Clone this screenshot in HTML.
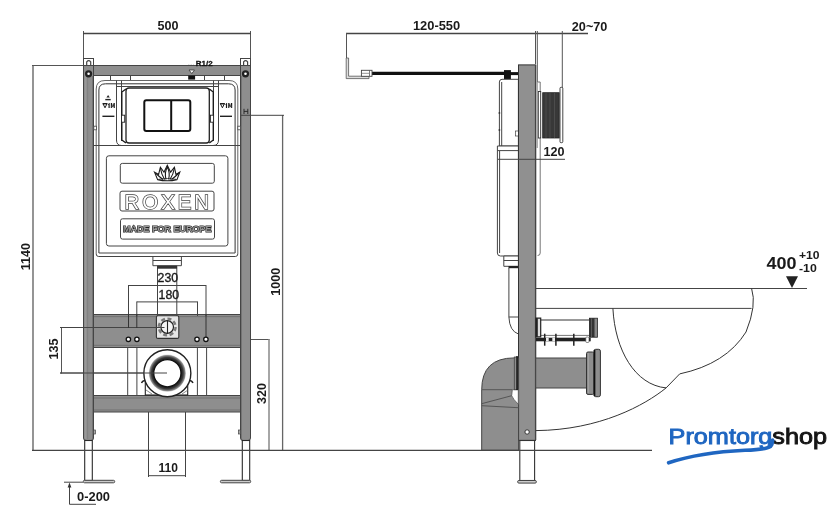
<!DOCTYPE html>
<html><head><meta charset="utf-8">
<style>
html,body{margin:0;padding:0;background:#fff;width:840px;height:525px;overflow:hidden}
svg{display:block;will-change:transform}
text{font-family:"Liberation Sans",sans-serif;font-weight:bold;fill:#1a1a1a}
</style></head><body>
<svg width="840" height="525" viewBox="0 0 840 525">
<defs>
<radialGradient id="dg" cx="167.35" cy="373.2" r="18.6" gradientUnits="userSpaceOnUse">
<stop offset="0.72" stop-color="#1a1a1a"/>
<stop offset="0.85" stop-color="#3a3a3a"/>
<stop offset="0.95" stop-color="#888"/>
<stop offset="1" stop-color="#ddd"/>
</radialGradient>
</defs>
<!-- ===== FRONT VIEW ===== -->
<g fill="none" stroke="#555" stroke-width="1">
<!-- dimension 500 -->
<line x1="83.5" y1="31" x2="83.5" y2="58"/>
<line x1="250.5" y1="31" x2="250.5" y2="58"/>
<line x1="83" y1="33.5" x2="251" y2="33.5" stroke="#444" stroke-width="1.3"/>
<!-- 1140 dim -->
<line x1="33" y1="65" x2="33" y2="450" stroke="#7a7a7a" stroke-width="1.6"/>
<line x1="32" y1="65.5" x2="83" y2="65.5"/>
<!-- floor -->
<!-- 1000 dim -->

<line x1="282.6" y1="115" x2="282.6" y2="450" stroke="#666" stroke-width="1.3"/>
<!-- 320 dim -->
<line x1="206" y1="339.5" x2="269.5" y2="339.5"/>
<line x1="269" y1="339" x2="269" y2="450" stroke="#888" stroke-width="1.5"/>
<!-- 135 dim -->
<line x1="61.5" y1="327.5" x2="61.5" y2="373.5"/>
<line x1="60" y1="327.5" x2="167" y2="327.5"/>
<line x1="60" y1="373" x2="167" y2="373"/>
</g>
<!-- frame posts -->
<g fill="#8e8e8e" stroke="#444" stroke-width="1">
<rect x="93.5" y="314.5" width="147" height="33"/>
<rect x="93.5" y="395.5" width="147" height="16.5"/>
<rect x="83.5" y="65.5" width="167" height="10"/>
<path d="M83.5 65.5 H93.5 V438 Q93.5 440.5 91 440.5 H86 Q83.5 440.5 83.5 438 Z"/>
<path d="M240.5 65.5 H250.5 V438 Q250.5 440.5 248 440.5 H243 Q240.5 440.5 240.5 438 Z"/>
</g>
<g fill="none" stroke-width="0.7">
<line x1="85.6" y1="76" x2="85.6" y2="439" stroke="#999" stroke-width="1.4"/>
<line x1="87.6" y1="76" x2="87.6" y2="439" stroke="#7c7c7c"/>
<line x1="92.6" y1="76" x2="92.6" y2="439" stroke="#666"/>
<line x1="241.4" y1="76" x2="241.4" y2="439" stroke="#666"/>
<line x1="94" y1="316.6" x2="240" y2="316.6" stroke="#666"/>
<line x1="94" y1="345.3" x2="240" y2="345.3" stroke="#666"/>
<line x1="94" y1="398" x2="240" y2="398" stroke="#666"/>
<line x1="94" y1="410" x2="240" y2="410" stroke="#666"/>
</g>
<g fill="#fff" stroke="#444" stroke-width="1">
<!-- tabs -->
<rect x="83.5" y="58.5" width="10" height="7"/>
<rect x="240.5" y="58.5" width="10" height="7"/>
<path d="M86.7 65 V61.8 Q88.7 59.6 90.7 61.8 V65" stroke-width="1.2"/>
<path d="M243.6 65 V61.8 Q245.6 59.6 247.6 61.8 V65" stroke-width="1.2"/>
<!-- legs -->
<rect x="84.7" y="440.5" width="7.6" height="40" stroke="#2a2a2a" stroke-width="1.1"/>
<rect x="242.3" y="440.5" width="7.4" height="40" stroke="#2a2a2a" stroke-width="1.1"/>
<rect x="83.3" y="480.3" width="31.4" height="2.5" rx="1.2" fill="#ccc"/>
<rect x="220.4" y="480.3" width="30.3" height="2.5" rx="1.2" fill="#ccc"/>
<!-- knobs -->
<rect x="93.5" y="430" width="2" height="4" fill="#aaa" stroke-width="0.7"/>
<rect x="238.5" y="430" width="2" height="4" fill="#aaa" stroke-width="0.7"/>
</g>
<line x1="241" y1="115.3" x2="284" y2="115.3" stroke="#444" stroke-width="1"/>
<path d="M244 108.8 V114 M247.8 108.8 V114 M244 111.4 H247.8" stroke="#222" stroke-width="0.9" fill="none"/>
<!-- bolts -->
<circle cx="88.6" cy="73.8" r="3.6" fill="#222"/>
<circle cx="88.6" cy="73.8" r="1.3" fill="#fff"/>
<circle cx="245.5" cy="73.8" r="3.6" fill="#222"/>
<circle cx="245.5" cy="73.8" r="1.3" fill="#fff"/>

<g fill="none" stroke="#444" stroke-width="1">
<!-- rails under top bar -->
<line x1="110.5" y1="76" x2="110.5" y2="80"/>
<line x1="130.5" y1="76" x2="130.5" y2="80"/>
<line x1="204.5" y1="76" x2="204.5" y2="80"/>
<line x1="224.5" y1="76" x2="224.5" y2="80"/>
<!-- cistern outer double line -->
<path d="M96.2 254 V89 Q96.2 80.5 105 80.5 H229 Q237.8 80.5 237.8 89 V254" stroke="#666"/>
<path d="M98.9 253 V90 Q98.9 83.8 105.5 83.8 H228.5 Q235.1 83.8 235.1 90 V253" stroke="#333"/>
<line x1="116.5" y1="80.5" x2="116.5" y2="141"/>
<line x1="218.5" y1="80.5" x2="218.5" y2="141"/>
<line x1="121.5" y1="80.5" x2="121.5" y2="141"/>
<line x1="213.5" y1="80.5" x2="213.5" y2="141"/>
<line x1="116" y1="86.5" x2="218.5" y2="86.5"/>
<path d="M116.5 140 Q116.5 145.5 121.5 145.5 H213 Q218.5 145.5 218.5 140"/>
<line x1="93.5" y1="145.5" x2="240.5" y2="145.5"/>
<!-- flush plate -->
<rect x="126" y="88" width="83.3" height="55" rx="3" stroke="#222" stroke-width="1.3"/>
<path d="M126 89 L121.8 92 V140 L126 143" stroke="#1a1a1a" stroke-width="1.4"/>
<rect x="121.5" y="115.2" width="3.2" height="7" fill="#fff" stroke="#222" stroke-width="0.9"/>
<path d="M209.3 89 L213.3 92 V140 L209.3 143" stroke="#1a1a1a" stroke-width="1.4"/>
<rect x="210.4" y="115.2" width="3.2" height="7" fill="#fff" stroke="#222" stroke-width="0.9"/>
<rect x="144.3" y="100.3" width="46" height="30.7" rx="2" stroke="#111" stroke-width="2"/>
<line x1="171.2" y1="100.3" x2="171.2" y2="131" stroke="#111" stroke-width="2"/>
<!-- underline 1M -->
<line x1="102.4" y1="116.3" x2="114.4" y2="116.3" stroke="#222" stroke-width="1.4"/>
<line x1="220" y1="116.3" x2="232" y2="116.3" stroke="#222" stroke-width="1.4"/>
<!-- side stubs -->
<rect x="93.8" y="126.2" width="2.6" height="3.6" fill="#fff" stroke-width="0.8"/>
<rect x="237.8" y="126.2" width="2.6" height="3.6" fill="#fff" stroke-width="0.8"/>
<!-- cistern lower -->
<path d="M98.9 253 H235.1" />
<path d="M96.2 254 Q96.2 256.5 98.7 256.5 H235.3 Q237.8 256.5 237.8 254"/>
<rect x="106.4" y="155.8" width="121.5" height="90.2" rx="2.5"/>
<rect x="120.3" y="163.4" width="94" height="19.8" rx="2"/>
<rect x="120" y="191.2" width="94" height="19.8" rx="2"/>
<rect x="120.5" y="218.8" width="94" height="20.3" rx="2"/>
<!-- outlet below cistern -->
<path d="M152.9 256.5 V265.7 H181.4 V256.5"/>
<line x1="153" y1="260.5" x2="181.3" y2="260.5"/>
<line x1="157.5" y1="266" x2="157.5" y2="316"/>
<line x1="176.8" y1="266" x2="176.8" y2="316"/>
<!-- dims 230 / 180 -->
<line x1="128.5" y1="285.5" x2="206" y2="285.5"/>
<line x1="128.5" y1="285" x2="128.5" y2="316"/>
<line x1="206" y1="285" x2="206" y2="316"/>
<line x1="136.8" y1="301.9" x2="197.5" y2="301.9"/>
<line x1="136.8" y1="301.5" x2="136.8" y2="316"/>
<line x1="197.5" y1="301.5" x2="197.5" y2="316"/>
<!-- drain bracket lines -->
<line x1="127.7" y1="348" x2="127.7" y2="395"/>
<line x1="136.9" y1="348" x2="136.9" y2="395"/>
<line x1="197.4" y1="348" x2="197.4" y2="395"/>
<line x1="206.6" y1="348" x2="206.6" y2="395"/>
<!-- drain pipe below -->
<line x1="148.5" y1="412" x2="148.5" y2="477"/>
<line x1="185.5" y1="412" x2="185.5" y2="477"/>
<line x1="148.5" y1="475.7" x2="185.5" y2="475.7"/>
<!-- 0-200 -->
<line x1="64" y1="482.2" x2="83" y2="482.2"/>
<line x1="69.5" y1="486" x2="69.5" y2="504.3"/>
<line x1="69.5" y1="504.3" x2="96" y2="504.3"/>
</g>
<rect x="157" y="265.7" width="20" height="3" fill="#333"/>
<path d="M69.5 482.4 L67.6 487.5 H71.4 Z" fill="#333"/>
<!-- middle fitting -->
<rect x="156.4" y="315.8" width="22.4" height="22.6" rx="1.5" fill="#e6e6e6" stroke="#333" stroke-width="1.1"/>
<circle cx="167.2" cy="327" r="8.4" fill="none" stroke="#7a7a7a" stroke-width="2.4" stroke-dasharray="4 2.6"/>
<circle cx="167.2" cy="327" r="6.3" fill="#f4f4f4" stroke="#222" stroke-width="1.2"/>
<line x1="167.5" y1="320.7" x2="167.5" y2="333.3" stroke="#222" stroke-width="1.1"/>
<line x1="60" y1="327.5" x2="164.5" y2="327.5" stroke="#444"/>
<g stroke="#333" stroke-width="1"><line x1="128.5" y1="314" x2="128.5" y2="328"/><line x1="206" y1="314" x2="206" y2="337"/><line x1="136.8" y1="314" x2="136.8" y2="328"/></g>
<!-- holes -->
<g fill="#fff" stroke="#111" stroke-width="1.3">
<circle cx="128.4" cy="339.3" r="2.2"/>
<circle cx="136.9" cy="339.3" r="2.2"/>
<circle cx="197" cy="339.3" r="2.2"/>
<circle cx="205.9" cy="339.3" r="2.2"/>
</g>
<!-- drain -->
<path d="M141.5 383 Q142.5 380.5 145.5 380.5 M193 383 Q192 380.5 189 380.5" fill="none" stroke="#222" stroke-width="1.4"/>
<rect x="145.3" y="382.2" width="42.4" height="12.8" fill="#fff" stroke="#222" stroke-width="1.1"/>
<path d="M146 390 L152 394 M188 390 L182 394" stroke="#555" stroke-width="0.7"/>
<circle cx="167.35" cy="373.2" r="23.5" fill="#fff" stroke="#222" stroke-width="1.4"/>
<circle cx="167.35" cy="373.2" r="18.6" fill="url(#dg)"/>
<circle cx="167.35" cy="373.2" r="13.6" fill="#fff" stroke="#111" stroke-width="1.3"/>
<line x1="60" y1="373" x2="167" y2="373" stroke="#444"/>

<!-- lotus -->
<g fill="#fff" stroke="#1a1a1a" stroke-width="1.1" stroke-linejoin="miter">
<path d="M154.5 172.1 L158.6 174.5 L160.4 167.2 L164 172.2 L167.3 165.2 L170.6 172.2 L174.4 167.2 L176 174.5 L179.8 172.1 L177 179.6 Q167.3 182 157.6 179.6 Z"/>
<path d="M167.3 167 Q164.2 173 166 179.3 M167.3 167 Q170.4 173 168.6 179.3" fill="none"/>
<path d="M160.4 168 Q161.5 175 164.6 179.5 M174.4 168 Q173.2 175 170 179.5" fill="none"/>
<path d="M155.5 173 Q159 176.5 163 179.5 M179 173 Q175.5 176.5 171.5 179.5" fill="none"/>
<path d="M158.5 179.3 Q167.3 177.8 176 179.3" fill="none" stroke-width="0.8"/>
</g>
<!-- texts front -->
<text x="157.5" y="30" font-size="12.6">500</text>
<text x="195.7" y="65.8" font-size="8" style="fill:#111;stroke:#111;stroke-width:0.3">R1/2</text>
<path d="M188 65.3 H194" stroke="#444" stroke-width="0.8" stroke-dasharray="1.5 1"/>
<path d="M189 70 H194.5 L191.8 73.6 Z" fill="#fff" stroke="#333" stroke-width="0.8"/>
<rect x="188.2" y="75.6" width="6.9" height="4" fill="#111"/>
<text x="157.6" y="282.4" font-size="12.3" style="font-weight:normal;stroke:#1a1a1a;stroke-width:0.35">230</text>
<text x="158.6" y="298.7" font-size="12.3" style="font-weight:normal;stroke:#1a1a1a;stroke-width:0.35">180</text>
<text x="158.6" y="471.9" font-size="12">110</text>
<text x="77" y="501.3" font-size="12.9">0-200</text>
<text transform="translate(30.4 256.7) rotate(-90)" font-size="12.6" text-anchor="middle">1140</text>
<text transform="translate(58.1 349.1) rotate(-90)" font-size="12.6" text-anchor="middle">135</text>
<text transform="translate(280 281.7) rotate(-90)" font-size="12.6" text-anchor="middle">1000</text>
<text transform="translate(266.4 393.4) rotate(-90)" font-size="12.6" text-anchor="middle">320</text>
<!-- 1M labels -->
<path d="M108.1 94.9 L106.4 97.6 H109.8 Z" fill="#222"/>
<rect x="105.3" y="98.9" width="5.4" height="1.4" fill="#222"/>
<path d="M103.0 103.7 H107.0 L105.0 107.8 Z" fill="none" stroke="#1a1a1a" stroke-width="1"/><rect x="102.6" y="103.1" width="4.8" height="1.2" fill="#1a1a1a"/><path d="M107.89999999999999 104.5 L109.1 103.1 H109.69999999999999 V108 H108.5 V105" fill="#1a1a1a"/><path d="M110.8 108 V103.1 H112.0 L112.8 106.3 L113.6 103.1 H114.8 V108 H113.69999999999999 V105 L113.19999999999999 107.2 H112.39999999999999 L111.89999999999999 105 V108 Z" fill="#1a1a1a"/>
<path d="M220.4 103.7 H224.4 L222.4 107.8 Z" fill="none" stroke="#1a1a1a" stroke-width="1"/><rect x="220.0" y="103.1" width="4.8" height="1.2" fill="#1a1a1a"/><path d="M225.3 104.5 L226.5 103.1 H227.1 V108 H225.9 V105" fill="#1a1a1a"/><path d="M228.2 108 V103.1 H229.4 L230.2 106.3 L231.0 103.1 H232.2 V108 H231.1 V105 L230.6 107.2 H229.8 L229.3 105 V108 Z" fill="#1a1a1a"/>
<text x="124.6" y="209" font-size="20.4" style="font-weight:normal;fill:#444;stroke:#444;stroke-width:1.5" textLength="84.5" lengthAdjust="spacing">ROXEN</text>
<text x="124.6" y="209" font-size="20.4" style="font-weight:normal;fill:#fff" textLength="84.5" lengthAdjust="spacing">ROXEN</text>
<text x="123" y="232.2" font-size="9.1" textLength="88.4" lengthAdjust="spacingAndGlyphs" style="fill:#222;stroke:#222;stroke-width:1.2">MADE FOR EUROPE</text>
<text x="123" y="232.2" font-size="9.1" textLength="88.4" lengthAdjust="spacingAndGlyphs" style="fill:#9a9a9a">MADE FOR EUROPE</text>

<!-- ===== SIDE VIEW ===== -->
<g fill="none" stroke="#555" stroke-width="1">
<line x1="346" y1="33.5" x2="588" y2="33.5" stroke="#444" stroke-width="1.3"/>
<line x1="535.5" y1="31" x2="535.5" y2="64"/>
<line x1="537.3" y1="31" x2="537.3" y2="148"/>
<line x1="562.3" y1="31" x2="562.3" y2="89"/>
<line x1="346.5" y1="33" x2="346.5" y2="58" stroke="#555"/>
<path d="M346.2 58 V78.6 H369 V76.2 H348.6 V58 Z" fill="#ddd" stroke="#555" stroke-width="0.8"/>
<line x1="536" y1="288.5" x2="807" y2="288.5" stroke="#444"/>
<line x1="536" y1="308.4" x2="751.6" y2="308.4" stroke="#444"/>
</g>
<!-- cable -->
<line x1="372" y1="73.3" x2="504" y2="73.3" stroke="#111" stroke-width="3.3"/>
<rect x="361.4" y="70.3" width="10.6" height="6" fill="#fff" stroke="#444" stroke-width="0.9"/>
<line x1="362" y1="73.3" x2="369" y2="73.3" stroke="#666" stroke-width="0.7"/>
<line x1="369.5" y1="70.5" x2="369.5" y2="76" stroke="#444" stroke-width="0.7"/>
<rect x="504" y="70.1" width="6.9" height="9.2" fill="#111"/>
<line x1="510" y1="73.6" x2="518.5" y2="73.6" stroke="#111" stroke-width="3"/>
<!-- cistern side -->
<g fill="#fff" stroke="#444">
<path d="M499.4 146 V82 Q499.4 79.3 502 79.3 H518.4 V146 Z"/>
<line x1="501.7" y1="82" x2="501.7" y2="146"/>
<path d="M497.4 146 H518.4 V256 H500.5 Q497.4 256 497.4 253 Z"/>
<line x1="499.6" y1="151" x2="499.6" y2="253"/>
<line x1="497.4" y1="150.6" x2="518.4" y2="150.6"/>
<path d="M503.8 256 H518.4 V266.3 H503.8 Z"/>
<line x1="503.8" y1="260.5" x2="518.4" y2="260.5"/>
<path d="M508.9 268 V317 Q509.5 331 518.4 334"/>
<line x1="508.9" y1="317" x2="518.4" y2="317"/>
<rect x="508.5" y="266" width="10" height="2.2" fill="#222" stroke="none"/>
<path d="M537.6 82 H540.2 V253 Q540.2 255.5 537.6 255.5" stroke="#666" stroke-width="0.9"/>
</g>
<circle cx="499.4" cy="112.9" r="0.9" fill="#333"/>
<circle cx="499.4" cy="130" r="0.9" fill="#333"/>
<rect x="515.5" y="131" width="3" height="5" fill="#fff" stroke="#444" stroke-width="0.7"/>
<!-- side post -->
<rect x="518.5" y="64.9" width="17" height="375.5" fill="#909090" stroke="#333"/>
<line x1="535.6" y1="65" x2="535.6" y2="440" stroke="#444" stroke-width="1.4"/>
<line x1="498" y1="159.3" x2="565" y2="159.3" stroke="#444"/>
<rect x="519.8" y="440.5" width="14.8" height="40" fill="#fff" stroke="#333" stroke-width="1.1"/>
<rect x="517.6" y="480.5" width="18.8" height="2.6" rx="1.3" fill="#ccc" stroke="#444"/>
<circle cx="527.1" cy="432" r="2.2" fill="#fff" stroke="#333"/>
<!-- flush ring -->
<rect x="538.3" y="91.5" width="2.4" height="46.5" fill="#fff" stroke="#333" stroke-width="0.9"/>
<rect x="542.7" y="92.7" width="16.5" height="45.3" fill="#383838" stroke="#222" stroke-width="0.8"/>
<g stroke="#555" stroke-width="0.7">
<line x1="546" y1="93" x2="546" y2="138"/><line x1="550" y1="93" x2="550" y2="138"/><line x1="554.5" y1="93" x2="554.5" y2="138"/>
</g>
<rect x="560" y="87.3" width="2.8" height="55.4" rx="1" fill="#fff" stroke="#333" stroke-width="0.9"/>
<!-- pipes -->
<path d="M481.7 450.3 V389.7 Q481.7 357.9 514.3 357.9 H518.6 V450.3 Z" fill="#8e8e8e" stroke="#444"/>
<line x1="481.7" y1="389.7" x2="512.3" y2="389.7" stroke="#555"/>
<path d="M512.3 389.7 H518.3 V404.3 Q513 399 511.7 395.7 Z" fill="#fff" stroke="#555" stroke-width="0.8"/>
<path d="M511.7 395.7 L481.7 403.7 M481.7 405.7 L518.3 407.7" fill="none" stroke="#555"/>
<rect x="514.3" y="357" width="3.4" height="32.7" fill="#8e8e8e" stroke="#444" stroke-width="0.8"/>
<line x1="517" y1="356" x2="517" y2="390" stroke="#111" stroke-width="1.4"/>
<rect x="535.7" y="358" width="51" height="30" fill="#8e8e8e" stroke="#444"/>
<rect x="586.5" y="352" width="7.4" height="42.4" rx="1.5" fill="#8e8e8e" stroke="#333"/>
<rect x="593.9" y="349.3" width="6.5" height="47.4" rx="1.8" fill="#8e8e8e" stroke="#333"/>
<line x1="594.6" y1="350" x2="594.6" y2="396" stroke="#111" stroke-width="1.5"/>
<line x1="588.5" y1="353" x2="588.5" y2="393" stroke="#a0a0a0" stroke-width="1"/>
<!-- rod -->
<g fill="none" stroke="#333">
<line x1="540.7" y1="320" x2="589.4" y2="320"/>
<line x1="540.7" y1="335.4" x2="589.4" y2="335.4" stroke="#777"/>
</g>
<path d="M536 318.2 H540.7 V336.8 H536 Z" fill="#ddd" stroke="#222" stroke-width="1.2"/>
<rect x="536" y="318.2" width="1.8" height="18.6" fill="#222"/>
<rect x="589.4" y="318.2" width="8" height="19" fill="#333" stroke="#222" stroke-width="0.8"/>
<rect x="594.5" y="318.6" width="2.6" height="18.2" fill="#888"/>
<line x1="591.5" y1="318.5" x2="591.5" y2="337" stroke="#777" stroke-width="0.6"/>
<rect x="536" y="337.7" width="54.7" height="3.6" fill="#222"/>
<rect x="546" y="337.9" width="2.7" height="3.2" fill="#eee"/>
<rect x="552.3" y="337.9" width="2.7" height="3.2" fill="#eee"/>
<rect x="585.8" y="337" width="3.2" height="5.5" rx="1" fill="#fff" stroke="#444" stroke-width="0.6"/>
<g stroke="#222" stroke-width="1.5">
<line x1="544.7" y1="333.7" x2="544.7" y2="345.7"/>
<line x1="555.9" y1="333.7" x2="555.9" y2="345.7"/>
<line x1="573.8" y1="333.7" x2="573.8" y2="345.7"/>
</g>
<!-- toilet -->
<g fill="none" stroke="#333" stroke-width="1">
<path d="M751.6 288.5 Q757 305 746 332 Q726 364 679.7 373.9 L666.1 387.9 C645 405, 600 430, 536 430.6"/>
<path d="M612.9 308.4 C615 350, 635 385, 666.1 387.9"/>
</g>
<text x="412.9" y="30.2" font-size="12.9">120-550</text>
<text x="571.8" y="31.2" font-size="12.7">20~70</text>
<text x="543.5" y="155.6" font-size="12.6">120</text>
<text x="766.5" y="268.7" font-size="17.3" textLength="30" lengthAdjust="spacingAndGlyphs">400</text>
<text x="798.9" y="258.6" font-size="11.3" textLength="20.6" lengthAdjust="spacingAndGlyphs">+10</text>
<text x="799" y="271.9" font-size="11.3" textLength="17.8" lengthAdjust="spacingAndGlyphs">-10</text>
<path d="M786 276.2 H798 L792 288 Z" fill="#222"/>
<!-- logo -->
<text x="668.6" y="443.9" font-size="21.5" textLength="158.5" lengthAdjust="spacingAndGlyphs" style="fill:#1f66c1;stroke:#1f66c1;stroke-width:0.9;font-weight:normal">Promtorg<tspan style="fill:#151515;stroke:#151515">shop</tspan></text>
<path d="M668.6 462.8 Q700 452.5 745 450.3 Q766 449.6 770.5 446.5 Q772.5 444.5 772.6 440" stroke="#1f66c1" stroke-width="3.6" fill="none" stroke-linecap="round"/>
<line x1="32" y1="450.4" x2="652" y2="450.4" stroke="#444" stroke-width="1.3"/>
</svg>
</body></html>
